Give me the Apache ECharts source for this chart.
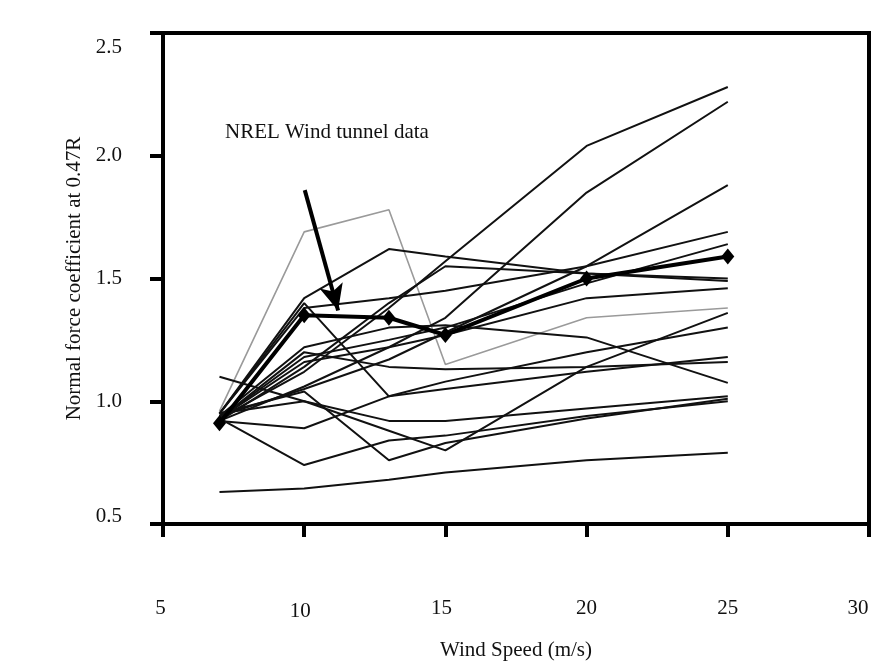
<!DOCTYPE html>
<html><head><meta charset="utf-8">
<script src="https://cdn.jsdelivr.net/npm/echarts@6/dist/echarts.min.js"></script>
<style>html,body{margin:0;padding:0;background:#fff;overflow:hidden}#c{width:881px;height:666px}</style>
</head><body><div id="c"></div>
<script>
const windSpeeds = [7, 10, 13, 15, 20, 25];
const nrel   = [0.91, 1.35, 1.34, 1.27, 1.50, 1.59];
const grayRun = [0.96, 1.69, 1.78, 1.15, 1.34, 1.38];
const run01 = [0.93, 1.12, 1.38, 1.57, 2.04, 2.28];
const run02 = [0.92, 1.06, 1.22, 1.34, 1.85, 2.22];
const run03 = [0.94, 1.05, 1.17, 1.28, 1.55, 1.88];
const run04 = [0.95, 1.38, 1.42, 1.45, 1.55, 1.69];
const run05 = [0.93, 1.18, 1.25, 1.30, 1.48, 1.64];
const run06 = [0.95, 1.42, 1.62, 1.59, 1.52, 1.49];
const run07 = [0.92, 1.14, 1.40, 1.55, 1.52, 1.50];
const run08 = [0.93, 1.16, 1.22, 1.27, 1.42, 1.46];
const run09 = [1.10, 1.00, 0.88, 0.80, 1.14, 1.36];
const run10 = [0.95, 1.40, 1.02, 1.05, 1.12, 1.18];
const run11 = [0.93, 1.20, 1.14, 1.13, 1.14, 1.16];
const run12 = [0.94, 1.22, 1.30, 1.31, 1.26, 1.075];
const run13 = [0.95, 1.04, 0.76, 0.83, 0.93, 1.01];
const run14 = [0.93, 0.74, 0.84, 0.86, 0.94, 1.00];
const run15 = [0.95, 1.00, 0.92, 0.92, 0.97, 1.02];
const run16 = [0.92, 0.89, 1.02, 1.08, 1.20, 1.30];
const run17 = [0.63, 0.645, 0.68, 0.71, 0.76, 0.79];
const xTicks = [5, 10, 15, 20, 25, 30];
const yTicks = [0.5, 1.0, 1.5, 2.0, 2.5];
const annotationText = 'NREL Wind tunnel data';

const blackRuns = [run01, run02, run03, run04, run05, run06, run07, run08, run09, run10, run11, run12, run13, run14, run15, run16, run17];
const pair = arr => windSpeeds.map((x, i) => [x, arr[i]]);
const serif = 'Liberation Serif';
const FS = 21;
const rs = (pad) => ({ fontFamily: serif, fontSize: FS, color: '#111', padding: pad });

const series = [];
blackRuns.forEach(r => series.push({
  type: 'line', data: pair(r), symbol: 'none', silent: true,
  lineStyle: { color: '#111', width: 2 }, z: 2
}));
series.push({
  type: 'line', data: pair(grayRun), symbol: 'none', silent: true,
  lineStyle: { color: '#9a9a9a', width: 1.6 }, z: 1
});
series.push({
  type: 'line', data: pair(nrel), symbol: 'diamond', symbolSize: [13, 16], silent: true,
  itemStyle: { color: '#000' }, lineStyle: { color: '#000', width: 4 }, z: 5,
  markLine: {
    silent: true, symbol: ['none', 'arrow'], symbolSize: [18, 26],
    lineStyle: { color: '#000', width: 4, type: 'solid' }, label: { show: false },
    data: [[{ coord: [10.02, 1.86] }, { coord: [11.2, 1.37] }]]
  }
});

const chart = echarts.init(document.getElementById('c'));
chart.setOption({
  animation: false,
  backgroundColor: '#fff',
  grid: { left: 163, width: 706, top: 33, height: 500, show: true, borderColor: '#000', borderWidth: 4 },
  xAxis: {
    type: 'value', min: 5, max: 30, interval: 5,
    name: 'Wind Speed (m/s)', nameLocation: 'middle', nameGap: 116,
    nameTextStyle: { fontFamily: serif, fontSize: FS, color: '#111' },
    axisLine: { show: true, lineStyle: { color: '#000', width: 4 } },
    axisTick: { show: true, inside: false, length: 13, lineStyle: { color: '#000', width: 4 } },
    axisLabel: {
      margin: 74, fontFamily: serif, fontSize: FS, color: '#111',
      formatter: v => v === 5 ? '{p|5}' : v === 10 ? '{q|10}' : v === 15 ? '{r|15}' : v === 30 ? '{s|30}' : String(v),
      rich: { p: rs([0, 5, 0, 0]), q: rs([3, 8, 0, 0]), r: rs([0, 8, 0, 0]), s: rs([0, 22, 0, 0]) }
    },
    splitLine: { show: false }
  },
  yAxis: {
    type: 'value', min: 0.5, max: 2.5, interval: 0.5,
    name: 'Normal force coefficient at 0.47R', nameLocation: 'middle', nameGap: 64,
    nameTextStyle: { fontFamily: serif, fontSize: FS, color: '#111' },
    axisLine: { show: true, lineStyle: { color: '#000', width: 4 } },
    axisTick: { show: true, inside: false, length: 13, lineStyle: { color: '#000', width: 4 } },
    axisLabel: {
      margin: 41, fontFamily: serif, fontSize: FS, color: '#111',
      formatter: v => v === 2.5 ? '{a|2.5}' : (v === 0.5 ? '{b|0.5}' : v.toFixed(1)),
      rich: { a: rs([28, 0, 0, 0]), b: rs([0, 0, 16, 0]) }
    },
    splitLine: { show: false }
  },
  graphic: [{
    type: 'text', left: 225, top: 122,
    style: { text: annotationText, font: '21px "Liberation Serif"', fill: '#111' }
  }],
  series
});
</script></body></html>
